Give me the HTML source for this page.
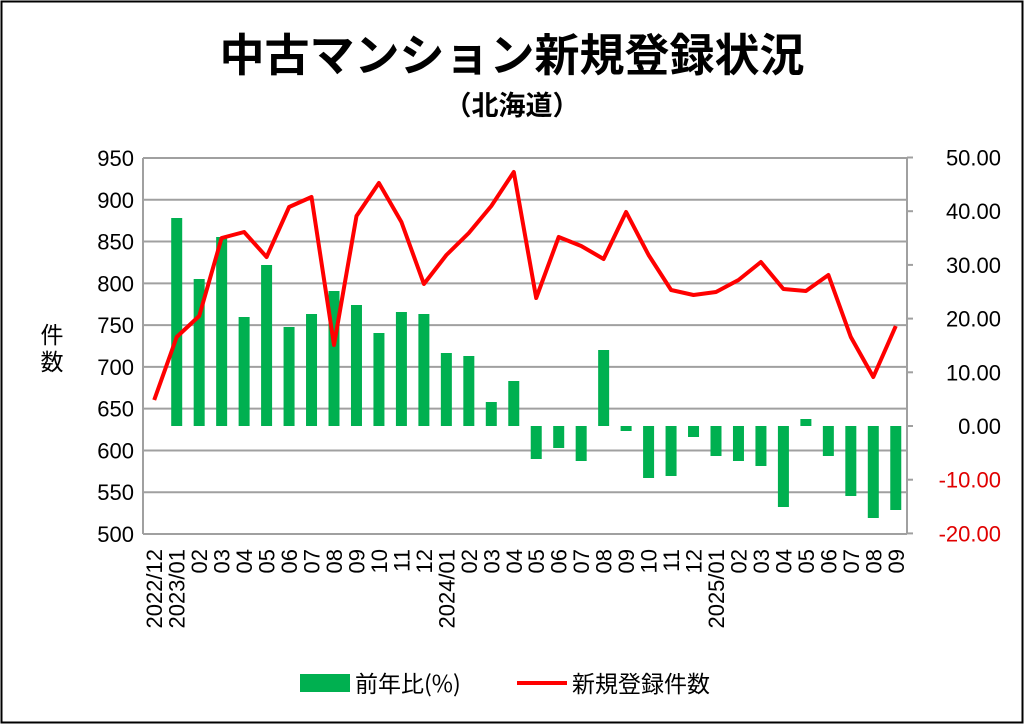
<!DOCTYPE html>
<html><head><meta charset="utf-8"><style>
html,body{margin:0;padding:0;background:#fff;}
svg{display:block;font-family:"Liberation Sans","Noto Sans CJK JP",sans-serif;}
</style></head><body>
<svg width="1024" height="724" viewBox="0 0 1024 724" xmlns="http://www.w3.org/2000/svg">
<rect x="1.5" y="1.5" width="1021" height="721" fill="#fff" stroke="#000" stroke-width="2"/>
<text x="512" y="71" text-anchor="middle" font-size="45" font-weight="bold" font-family="'Noto Sans CJK JP',sans-serif">中古マンション新規登録状況</text>
<text x="512" y="115" text-anchor="middle" font-size="27" font-weight="bold" font-family="'Noto Sans CJK JP',sans-serif">（北海道）</text>
<g id="grid" stroke="#a0a0a0" stroke-width="2" fill="none"></g>
<g id="bars" fill="#00b050"></g>
<polyline id="line" fill="none" stroke="#ff0000" stroke-width="4" stroke-linejoin="round"/>
<g id="ylab" font-size="22" fill="#000"></g>
<g id="xlab" font-size="22" fill="#000"></g>
<text x="52" y="343" text-anchor="middle" font-size="23" font-family="'Noto Sans CJK JP',sans-serif">件</text>
<text x="52" y="370" text-anchor="middle" font-size="23" font-family="'Noto Sans CJK JP',sans-serif">数</text>
<rect x="300" y="674" width="50" height="18" fill="#00b050"/>
<text x="355" y="692" font-size="23" font-family="'Noto Sans CJK JP',sans-serif">前年比(%)</text>
<line x1="517" y1="683" x2="567" y2="683" stroke="#ff0000" stroke-width="4"/>
<text x="572" y="692" font-size="23" font-family="'Noto Sans CJK JP',sans-serif">新規登録件数</text>
</svg>
<script>
var NS="http://www.w3.org/2000/svg";
function el(t,a,p,txt){var e=document.createElementNS(NS,t);for(var k in a)e.setAttribute(k,a[k]);if(txt!=null)e.textContent=txt;document.getElementById(p).appendChild(e);return e;}
var L=143,R=907,T=158,B=534;
for(var v=500;v<=950;v+=50){var y=B-(v-500)*(B-T)/450;el('line',{x1:L,y1:y,x2:R,y2:y},'grid');el('text',{x:134,y:y+8,'text-anchor':'end'},'ylab',v);}
el('line',{x1:L,y1:T,x2:L,y2:B},'grid');el('line',{x1:R,y1:T,x2:R,y2:B},'grid');
for(var r=50;r>=-20;r-=10){var y=426-r*5.37;el('line',{x1:R,y1:y,x2:R+6,y2:y},'grid');var t=el('text',{x:1001,y:y+8,'text-anchor':'end'},'ylab',r.toFixed(2));if(r<0)t.setAttribute('fill','#e00000');}
var step=(R-L)/34;
var ly=[400,337,316,238,232,257,207,197,345,216,183,222,284,255,233,206,172,298,237,246,259,212,255,290,295,292,280,262,289,291,275,337,377,326];
var bt=[null,218,279,237,317,265,327,314,291,305,333,312,314,353,356,402,381,459,448,461,350,431,478,476,437,456,461,466,507,419,456,496,518,510];
var pts=[];
var labs=['2022/12','2023/01','02','03','04','05','06','07','08','09','10','11','12','2024/01','02','03','04','05','06','07','08','09','10','11','12','2025/01','02','03','04','05','06','07','08','09'];
for(var i=0;i<34;i++){var cx=L+step*(i+0.5);pts.push(cx.toFixed(1)+','+ly[i]);
 if(bt[i]!=null){var y0=Math.min(426,bt[i]),y1=Math.max(426,bt[i]);el('rect',{x:cx-5.5,y:y0,width:11,height:Math.max(y1-y0,1)},'bars');}
 el('text',{x:0,y:0,'text-anchor':'end',transform:'translate('+(cx+8)+',549) rotate(-90)'},'xlab',labs[i]);}
document.getElementById('line').setAttribute('points',pts.join(' '));
</script>
</body></html>
